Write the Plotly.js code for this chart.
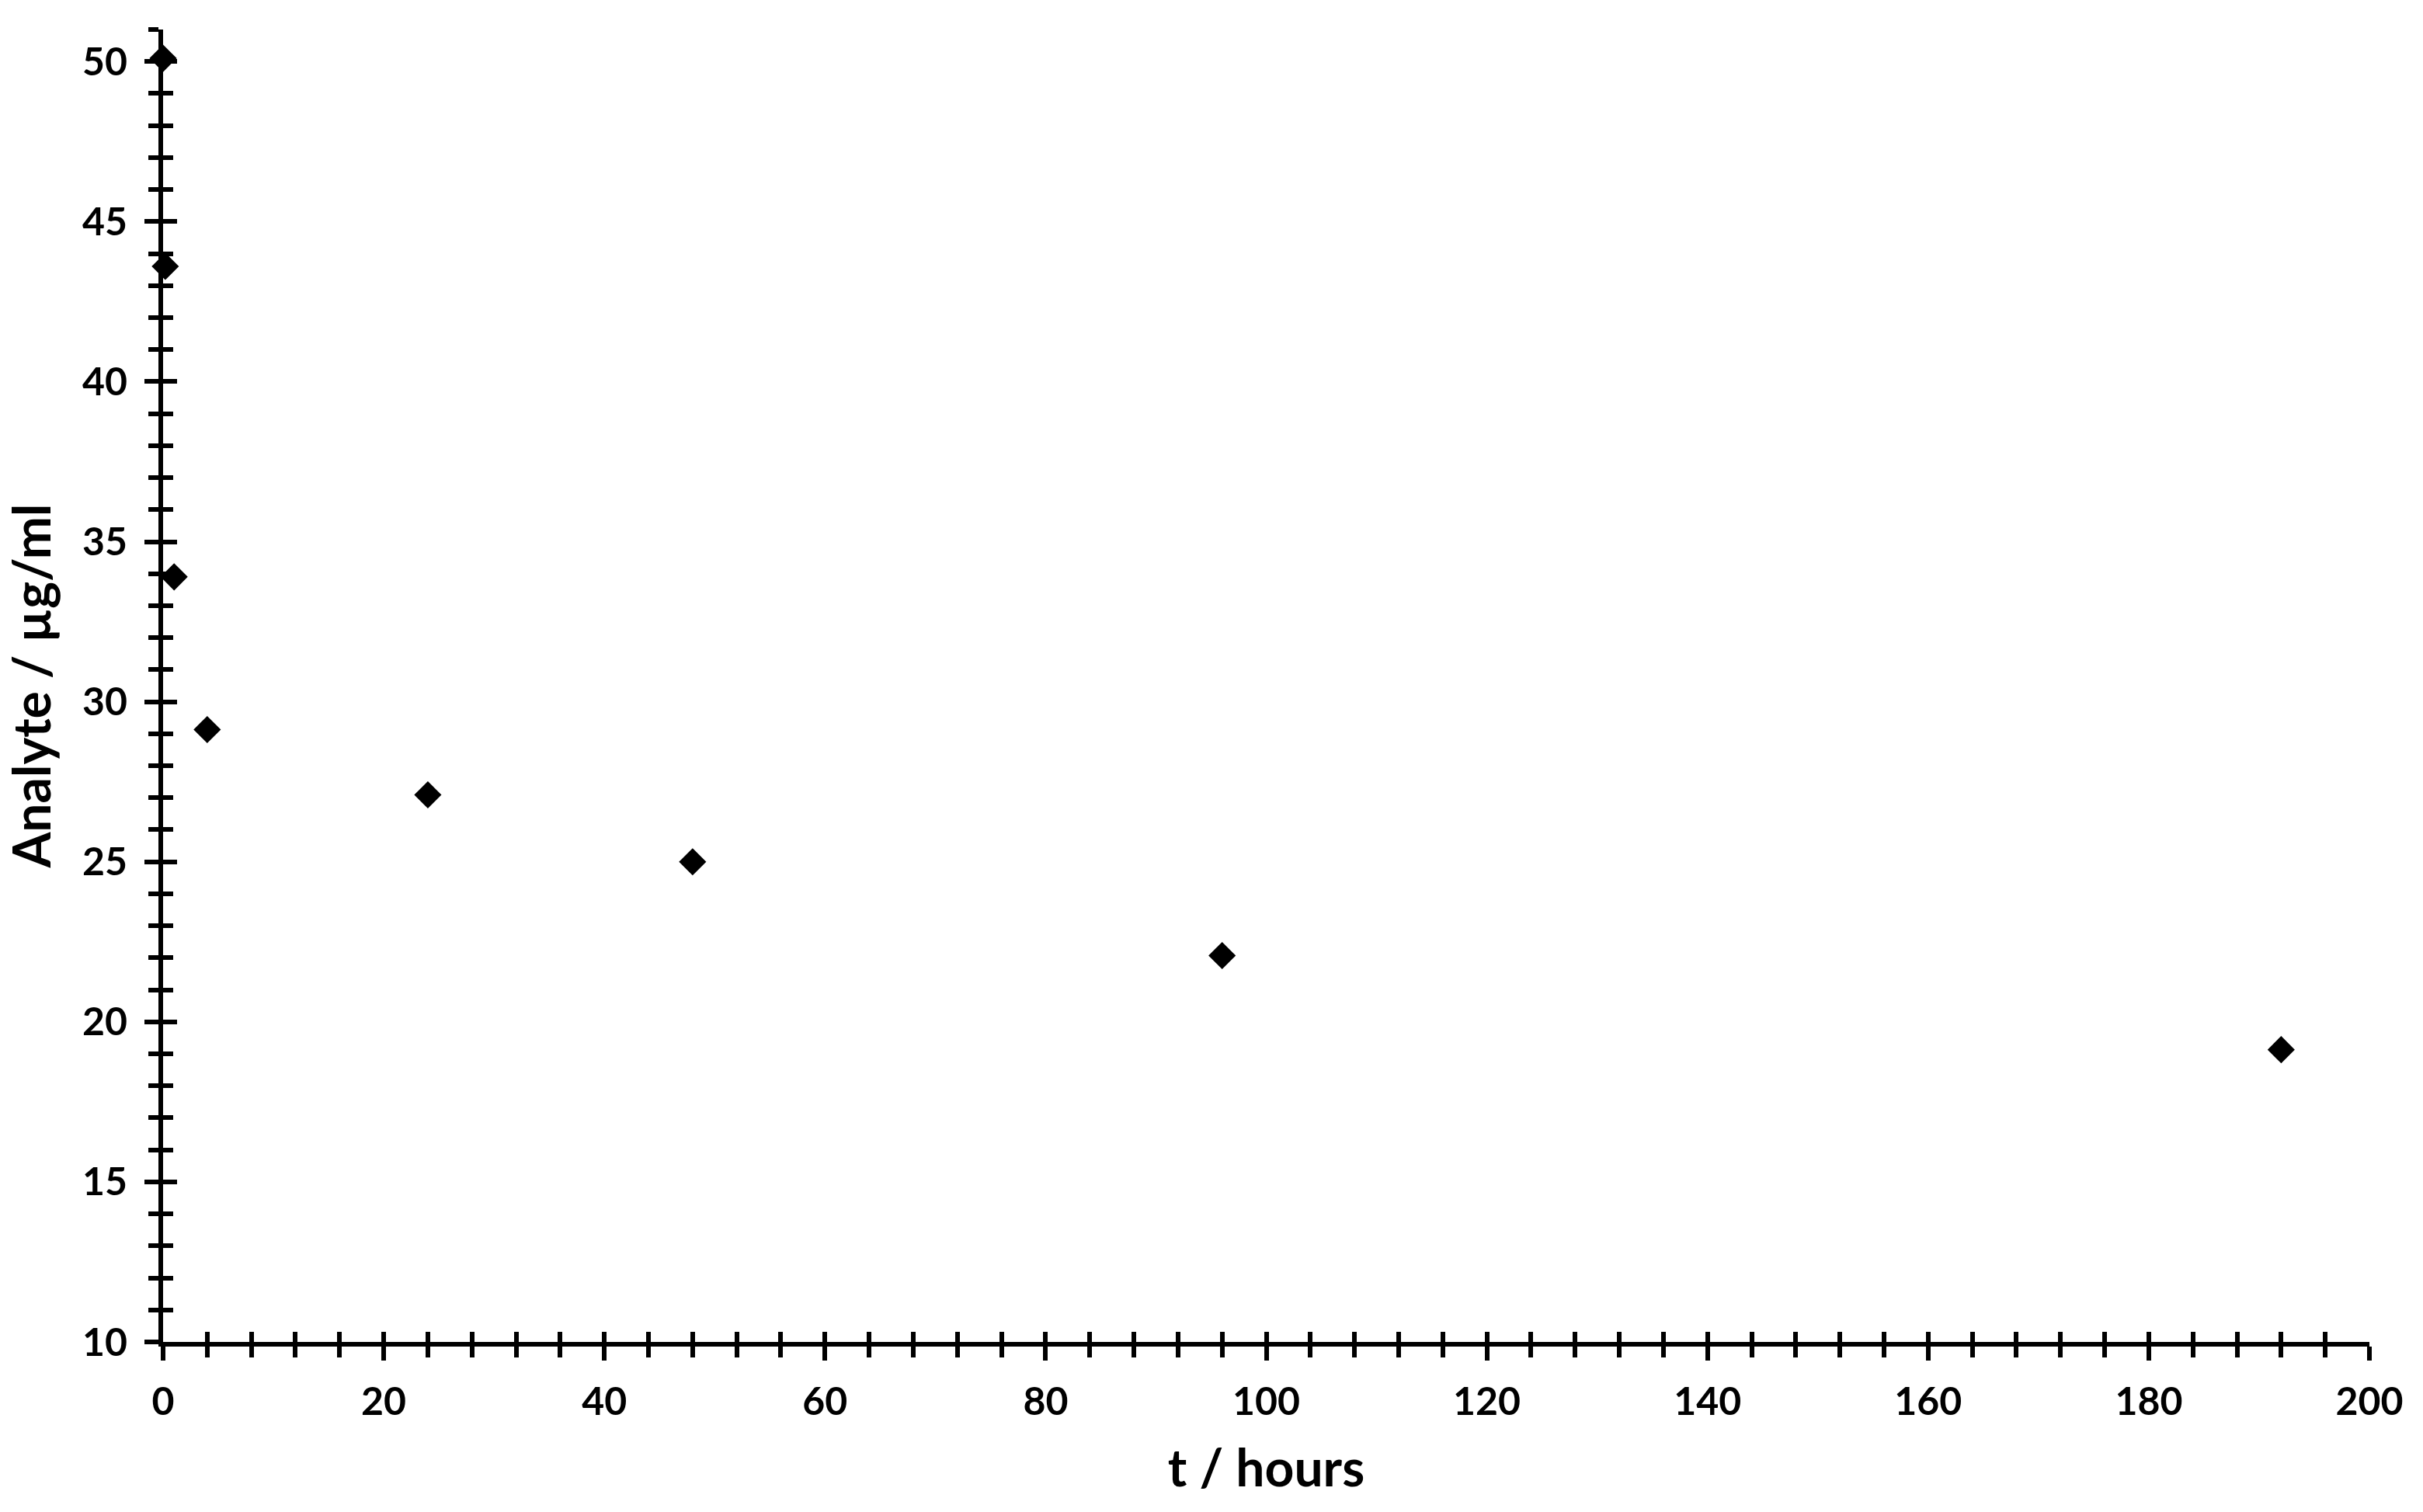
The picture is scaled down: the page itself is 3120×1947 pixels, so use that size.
<!DOCTYPE html>
<html>
<head>
<meta charset="utf-8">
<script src="https://cdn.plot.ly/plotly-3.0.1.min.js"></script>
<style>html,body{margin:0;padding:0;background:#fff;}#chart{width:3120px;height:1947px;}</style>
</head>
<body>
<div id="chart"></div>
<script>
const timeHours = [0, 0.2, 1, 4, 24, 48, 96, 192];
const analyte = [50.1, 43.6, 33.9, 29.13, 27.09, 25.0, 22.07, 19.13];
const xTitle = 't / hours';
const yTitle = 'Analyte / µg/ml';

const fontFamily = 'Lato, "Open Sans", sans-serif';
const axisCommon = {
  showgrid: false, zeroline: false, showline: true,
  linecolor: '#000', linewidth: 6,
  tickcolor: '#000', tickwidth: 6,
  tickfont: {family: fontFamily, size: 50, color: '#000', weight: 700},
  fixedrange: true
};

const traces = [
  {x: timeHours, y: analyte, type: 'scatter', mode: 'markers',
   marker: {symbol: 'diamond', size: 27, color: '#000'}, showlegend: false, cliponaxis: false},
  {x: [], y: [], xaxis: 'x2', yaxis: 'y2', type: 'scatter', mode: 'markers', showlegend: false}
];

const layout = {
  width: 3120, height: 1947,
  margin: {l: 210, r: 69, t: 38, b: 219},
  paper_bgcolor: '#fff', plot_bgcolor: '#fff',
  showlegend: false,
  xaxis: Object.assign({}, axisCommon, {
    range: [0, 200], tick0: 0, dtick: 20, ticks: 'outside', ticklen: 18,
    minor: {dtick: 4, tick0: 0, ticks: 'outside', ticklen: 14, tickwidth: 6, tickcolor: '#000'},
    ticklabelstandoff: 10,
    title: {text: xTitle, font: {family: fontFamily, size: 66, color: '#000', weight: 700}, standoff: 38}
  }),
  yaxis: Object.assign({}, axisCommon, {
    range: [10, 51], tick0: 10, dtick: 5, ticks: 'outside', ticklen: 18,
    minor: {dtick: 1, tick0: 10, ticks: 'outside', ticklen: 13, tickwidth: 6, tickcolor: '#000'},
    ticklabelstandoff: 12,
    title: {text: yTitle, font: {family: fontFamily, size: 66, color: '#000', weight: 700}, standoff: 30}
  }),
  xaxis2: Object.assign({}, axisCommon, {
    overlaying: 'x', matches: 'x', range: [0, 200], tick0: 0, dtick: 20,
    ticks: 'inside', ticklen: 13, showticklabels: false, showline: false,
    minor: {dtick: 4, tick0: 0, ticks: 'inside', ticklen: 13, tickwidth: 6, tickcolor: '#000'}
  }),
  yaxis2: Object.assign({}, axisCommon, {
    overlaying: 'y', matches: 'y', range: [10, 51], tick0: 10, dtick: 5,
    ticks: 'inside', ticklen: 18, showticklabels: false, showline: false,
    minor: {dtick: 1, tick0: 10, ticks: 'inside', ticklen: 13, tickwidth: 6, tickcolor: '#000'}
  })
};

Plotly.newPlot('chart', traces, layout, {staticPlot: true, displayModeBar: false});
</script>
</body>
</html>
